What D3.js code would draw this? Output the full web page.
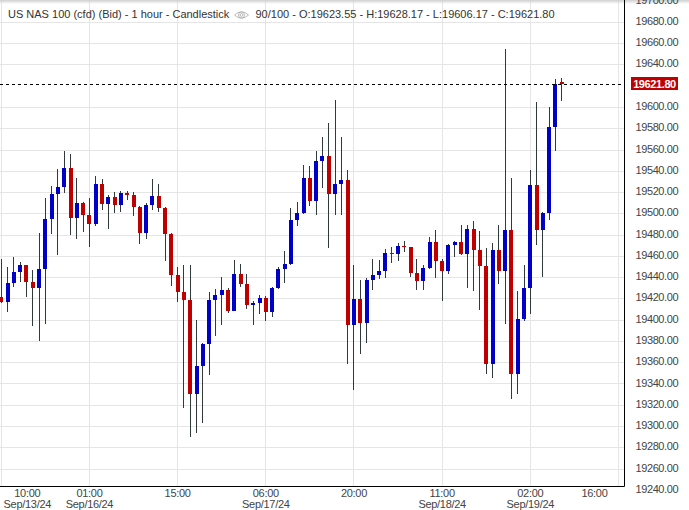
<!DOCTYPE html>
<html>
<head>
<meta charset="utf-8">
<script src="https://d3js.org/d3.v7.min.js"></script>
<style>
html, body { margin: 0; padding: 0; background: #fff; overflow: hidden; }
text { font-family: "Liberation Sans", Arial, sans-serif; font-size: 11px; }
</style>
</head>
<body>
<div id="chart"></div>
<script>
var opens = [19421.8,19417.1,19434.9,19445.3,19451.9,19435.9,19430.2,19448.1,19495.1,19518.7,
	19525.2,19543.1,19496.1,19510.2,19498.9,19490.4,19528.1,19509.3,19515.8,19508.3,
	19519.6,19517.7,19506.4,19482.0,19508.3,19516.8,19505.5,19481.0,19442.5,19426.5,
	19419.0,19330.6,19356.9,19377.6,19419.0,19423.7,19428.4,19408.6,19443.4,19434.0,
	19414.3,19416.2,19420.8,19407.7,19430.2,19448.1,19452.8,19494.2,19500.8,19533.7,
	19512.1,19549.7,19554.4,19518.7,19528.1,19531.8,19395.5,19419.9,19397.4,19437.8,
	19442.5,19446.2,19463.2,19462.2,19469.8,19468.8,19444.4,19436.8,19449.1,19473.5,
	19455.6,19446.2,19470.7,19473.5,19462.2,19485.7,19466.0,19450.9,19358.8,19466.0,
	19446.2,19484.8,19349.4,19401.1,19430.3,19527.1,19484.8,19500.8,19581.7,19623.55];
var highs = [19457.5,19450.0,19459.4,19454.7,19451.9,19447.2,19482.0,19514.9,19526.2,19542.2,
	19559.1,19556.3,19533.7,19511.1,19514.9,19535.6,19532.8,19517.7,19520.5,19521.5,
	19521.5,19520.5,19507.4,19510.2,19532.8,19528.1,19506.4,19482.0,19450.0,19451.9,
	19451.9,19400.2,19378.5,19426.5,19429.3,19440.6,19430.2,19456.6,19452.8,19443.4,
	19418.0,19423.7,19422.7,19431.2,19450.0,19465.0,19505.5,19511.1,19545.9,19545.0,
	19559.1,19572.3,19585.4,19607.1,19572.3,19541.2,19451.9,19437.8,19439.7,19457.5,
	19456.6,19466.9,19468.8,19472.6,19474.5,19468.8,19457.5,19451.9,19478.2,19484.8,
	19457.5,19471.6,19474.5,19489.5,19489.5,19493.3,19483.9,19467.9,19472.6,19489.5,
	19655.0,19533.7,19427.4,19451.9,19541.2,19605.2,19501.7,19600.5,19626.8,19628.17];
var lows = [19416.2,19407.7,19431.2,19435.9,19421.8,19394.5,19380.4,19396.4,19481.0,19461.3,
	19519.6,19480.1,19476.3,19482.9,19468.8,19488.6,19503.6,19485.7,19500.8,19501.7,
	19513.0,19498.0,19471.6,19476.3,19503.6,19501.7,19455.6,19432.1,19417.1,19317.4,
	19290.1,19293.9,19303.3,19348.4,19385.1,19395.5,19406.7,19408.6,19431.2,19410.5,
	19395.5,19405.8,19399.2,19403.0,19429.3,19434.9,19451.9,19488.6,19499.8,19507.4,
	19498.9,19524.3,19467.9,19498.9,19498.9,19358.8,19334.3,19368.2,19378.5,19428.4,
	19438.7,19439.7,19453.8,19455.6,19464.1,19440.6,19428.4,19428.4,19448.1,19439.7,
	19418.0,19443.4,19459.4,19461.3,19430.3,19427.4,19409.6,19349.4,19345.6,19434.0,
	19396.4,19325.9,19330.6,19399.2,19405.8,19470.7,19440.6,19494.2,19559.1,19606.17];
var closes = [19417.1,19434.9,19445.3,19451.9,19435.9,19430.2,19448.1,19495.1,19518.7,19525.2,
	19543.1,19496.1,19510.2,19498.9,19490.4,19528.1,19509.3,19515.8,19508.3,19519.6,
	19517.7,19506.4,19482.0,19508.3,19516.8,19505.5,19481.0,19442.5,19426.5,19419.0,
	19330.6,19356.9,19377.6,19419.0,19423.7,19428.4,19408.6,19443.4,19434.0,19414.3,
	19416.2,19420.8,19407.7,19430.2,19448.1,19452.8,19494.2,19500.8,19533.7,19512.1,
	19549.7,19554.4,19518.7,19528.1,19531.8,19395.5,19419.9,19397.4,19437.8,19442.5,
	19446.2,19463.2,19462.2,19469.8,19468.8,19444.4,19436.8,19449.1,19473.5,19455.6,
	19446.2,19470.7,19473.5,19462.2,19485.7,19466.0,19450.9,19358.8,19466.0,19446.2,
	19484.8,19349.4,19401.1,19430.3,19527.1,19484.8,19500.8,19581.7,19621.8,19621.8];
var priceTicks = [19240,19260,19280,19300,19320,19340,19360,19380,19400,19420,19440,19460,
	19480,19500,19520,19540,19560,19580,19600,19620,19640,19660,19680,19700];
var timeTicks = [0,14,28,42,56,70,84,98];
var timeLabels = ["10:00","01:00","15:00","06:00","20:00","11:00","02:00","16:00"];
var dateLabels = ["Sep/13/24","Sep/16/24","","Sep/17/24","","Sep/18/24","Sep/19/24",""];
var lastPrice = 19621.80;
var titleLeft = "US NAS 100 (cfd) (Bid) - 1 hour - Candlestick";
var titleRight = "90/100 - O:19623.55 - H:19628.17 - L:19606.17 - C:19621.80";

var width = 689, height = 510;
var plotRight = 624.5, plotBottom = 486.5;
var svg = d3.select("#chart").append("svg")
	.attr("width", width)
	.attr("height", height)
	.style("display", "block");

//define scales
var x = d3.scaleLinear().domain([0, 84]).range([1.3, 530.3]);
var y = d3.scaleLinear().domain([19600, 19280]).range([107.5, 447.8]);
var bodyWidth = 4;

// grid goes under everything, stops at the plot edge
svg.append("g").selectAll("line")
	.data(priceTicks.filter(function(d) { return y(d) < plotBottom && d != 19700 && d != 19620; }))
	.enter().append("line")
	.attr("x1", 0).attr("x2", plotRight)
	.attr("y1", function(d) { return y(d); })
	.attr("y2", function(d) { return y(d); })
	.style("shape-rendering", "crispEdges")
	.style("stroke", "#e5e5e5");
svg.append("g").selectAll("line")
	.data(timeTicks)
	.enter().append("line")
	.attr("y1", 0).attr("y2", plotBottom)
	.attr("x1", function(d) { return x(d); })
	.attr("x2", function(d) { return x(d); })
	.style("shape-rendering", "crispEdges")
	.style("stroke", "#e5e5e5");

// shadow along the top edge
var grad = svg.append("defs").append("linearGradient")
	.attr("id", "topShade").attr("x1", 0).attr("x2", 0).attr("y1", 0).attr("y2", 1);
grad.append("stop").attr("offset", 0).attr("stop-color", "#cfcfcf");
grad.append("stop").attr("offset", 1).attr("stop-color", "#cfcfcf").attr("stop-opacity", 0);
svg.append("rect").attr("width", width).attr("height", 4).attr("fill", "url(#topShade)");

// candles
var candles = svg.append("g")
	.style("shape-rendering", "crispEdges")
	.selectAll("g")
	.data(d3.range(closes.length))
	.enter().append("g");
candles.append("line")
	.attr("x1", function(i) { return x(i); })
	.attr("x2", function(i) { return x(i); })
	.attr("y1", function(i) { return y(highs[i]); })
	.attr("y2", function(i) { return y(lows[i]); })
	.style("stroke", "#2f3a3c")
	.style("stroke-width", 1);
candles.append("rect")
	.attr("x", function(i) { return x(i) - bodyWidth / 2; })
	.attr("y", function(i) { return y(Math.max(opens[i], closes[i])); })
	.attr("width", bodyWidth)
	.attr("height", function(i) { return Math.max(1, Math.abs(y(opens[i]) - y(closes[i]))); })
	.style("fill", function(i) { return closes[i] >= opens[i] ? "#0000c8" : "#c00000"; });

// last price line
var tagY = Math.floor(y(lastPrice)) + 0.5;
svg.append("line")
	.attr("x1", 0).attr("x2", plotRight)
	.attr("y1", tagY).attr("y2", tagY)
	.style("stroke", "#000")
	.style("stroke-dasharray", "3,3");

// axes frame
svg.append("line").attr("x1", 0).attr("x2", plotRight)
	.attr("y1", plotBottom).attr("y2", plotBottom).style("stroke", "#000");
svg.append("line").attr("x1", plotRight).attr("x2", plotRight)
	.attr("y1", 0).attr("y2", plotBottom).style("stroke", "#000");

// y axis labels
var yAxis = d3.axisRight(y)
	.tickValues(priceTicks.filter(function(d) { return d != 19620; }))
	.tickSize(0)
	.tickPadding(11)
	.tickFormat(d3.format(".2f"));
var yG = svg.append("g")
	.attr("transform", "translate(" + plotRight + ",-1.5)")
	.call(yAxis);
yG.select(".domain").remove();
yG.selectAll("text")
	.style("fill", "#444")
	.style("font-size", "11px")
	.style("letter-spacing", "-0.4px")
	.style("font-family", "'Liberation Sans', Arial, sans-serif");

// price tag
svg.append("rect")
	.attr("x", 631).attr("y", tagY - 7.5)
	.attr("width", 47).attr("height", 13)
	.style("fill", "#c00000");
svg.append("text")
	.attr("x", 654.5).attr("y", tagY + 3)
	.attr("text-anchor", "middle")
	.style("fill", "#fff")
	.style("font-weight", "bold")
	.style("letter-spacing", "-0.4px")
	.text(lastPrice.toFixed(2));

// x axis labels, outer two get pushed inside like the original
var labelX = function(d, i) {
	if (i == 0) return x(d) + 26;
	if (i == timeTicks.length - 1) return x(d) - 24;
	return x(d);
};
var xLabels = svg.append("g").selectAll("text")
	.data(timeTicks)
	.enter().append("text")
	.attr("text-anchor", "middle")
	.style("letter-spacing", "-0.3px")
	.style("fill", "#444");
xLabels.append("tspan")
	.attr("x", labelX)
	.attr("y", 497)
	.text(function(d, i) { return timeLabels[i]; });
xLabels.append("tspan")
	.attr("x", labelX)
	.attr("y", 508)
	.text(function(d, i) { return dateLabels[i]; });

// header
svg.append("text").attr("x", 8).attr("y", 18).style("fill", "#333").text(titleLeft);
svg.append("text").attr("x", 255.5).attr("y", 18).style("fill", "#333").text(titleRight);
var eye = svg.append("g").attr("transform", "translate(241.5,15)")
	.style("fill", "none").style("stroke", "#aaa").style("stroke-width", 0.8);
eye.append("path").attr("d", "M-7,0 Q0,-6.5 7,0 Q0,6.5 -7,0 Z");
eye.append("circle").attr("r", 3);
eye.append("circle").attr("r", 1.4);
</script>
</body>
</html>
